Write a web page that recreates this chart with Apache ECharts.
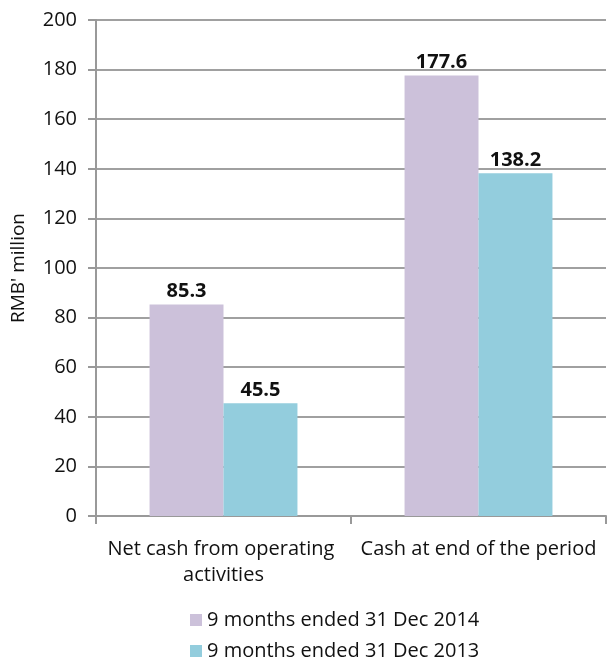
<!DOCTYPE html>
<html><head><meta charset="utf-8">
<script src="https://cdn.jsdelivr.net/npm/echarts@6/dist/echarts.min.js"></script>
<style>html,body{margin:0;padding:0;background:#fff}#c{width:607px;height:661px}</style>
</head><body><div id="c"></div>
<script>
const categories = ["Net cash from operating activities", "Cash at end of the period"];
const seriesNames = ["9 months ended 31 Dec 2014", "9 months ended 31 Dec 2013"];
const values2014 = [85.3, 177.6];
const values2013 = [45.5, 138.2];
const yTicks = {min: 0, max: 200, interval: 20};
const yAxisName = "RMB' million";

const FONT = "Open Sans";
const chart = echarts.init(document.getElementById('c'));
chart.setOption({
  animation: false,
  textStyle: {fontFamily: FONT},
  grid: {left: 96, right: 1, top: 20, bottom: 145},
  legend: {
    orient: 'vertical', left: 190, top: 610, padding: 0, height: 80, width: 400,
    itemWidth: 12, itemHeight: 12, itemGap: 11,
    icon: 'rect',
    textStyle: {fontSize: 20, lineHeight: 20, color: '#111', fontFamily: FONT},
    data: seriesNames
  },
  xAxis: {
    type: 'category', data: categories,
    axisLine: {lineStyle: {color: '#999', width: 2}},
    axisTick: {show: true, length: 8, lineStyle: {color: '#999', width: 2}},
    axisLabel: {fontSize: 20, color: '#111', margin: 20, lineHeight: 26, width: 250, overflow: 'break', interval: 0}
  },
  yAxis: {
    type: 'value', min: yTicks.min, max: yTicks.max, interval: yTicks.interval,
    name: yAxisName, nameLocation: 'middle', nameGap: 68,
    nameTextStyle: {fontSize: 19, color: '#111'},
    axisLine: {show: true, lineStyle: {color: '#999', width: 2}},
    axisTick: {show: true, length: 8, lineStyle: {color: '#999', width: 2}},
    axisLabel: {fontSize: 20, color: '#111', margin: 19},
    splitLine: {lineStyle: {color: '#a0a0a0', width: 2}}
  },
  series: [
    {name: seriesNames[0], type: 'bar', data: values2014, barGap: '0%', barCategoryGap: '42%',
     itemStyle: {color: '#CCC1DA'},
     label: {show: true, position: 'top', distance: 3, fontSize: 20, fontWeight: 'bold', color: '#111'}},
    {name: seriesNames[1], type: 'bar', data: values2013, barGap: '0%', barCategoryGap: '42%',
     itemStyle: {color: '#93CDDD'},
     label: {show: true, position: 'top', distance: 3, fontSize: 20, fontWeight: 'bold', color: '#111'}}
  ]
});
</script></body></html>
